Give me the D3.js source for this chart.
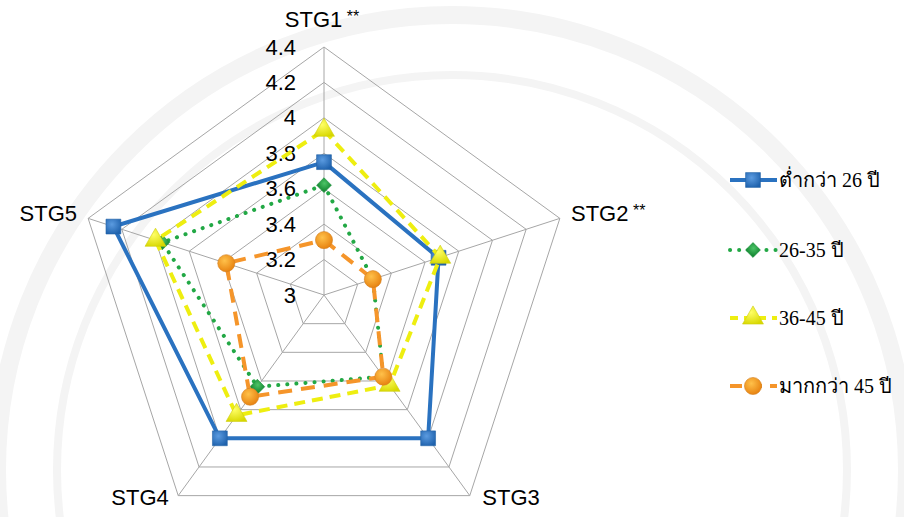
<!DOCTYPE html>
<html>
<head>
<meta charset="utf-8">
<script src="https://cdn.jsdelivr.net/npm/d3@7"></script>
<style>
  body { margin: 0; background: #fff; }
  svg { display: block; }
</style>
</head>
<body>
<div id="radar"></div>
<script>
// axes, ticks and series
const axes = ['STG1 **', 'STG2 **', 'STG3', 'STG4', 'STG5'];
const ticks = [3, 3.2, 3.4, 3.6, 3.8, 4, 4.2, 4.4];
const seriesNames = ['ต่ำกว่า 26 ปี', '26-35 ปี', '36-45 ปี', 'มากกว่า 45 ปี'];
const under26 = [3.75, 3.68, 4.0, 4.0, 4.25];
const age26to35 = [3.62, 3.29, 3.57, 3.64, 3.96];
const age36to45 = [3.93, 3.69, 3.63, 3.84, 4.0];
const over45 = [3.31, 3.29, 3.57, 3.71, 3.58];

const width = 904, height = 517;
const cx = 324, cy = 295, R = 248;

const svg = d3.select('#radar').append('svg')
    .attr('width', width)
    .attr('height', height);

// faint watermark arcs
const wm = svg.append('g').attr('fill', 'none').attr('stroke', '#f4f4f4');
wm.append('circle').attr('cx', 452).attr('cy', 470).attr('r', 455).attr('stroke-width', 18);
wm.append('circle').attr('cx', 452).attr('cy', 470).attr('r', 395).attr('stroke-width', 8);

const r = d3.scaleLinear().domain([3, 4.4]).range([0, R]);
const angle = d3.scaleLinear().domain([0, axes.length]).range([0, 2 * Math.PI]);

function pt(i, v) {
    const a = angle(i);
    return [cx + r(v) * Math.sin(a), cy - r(v) * Math.cos(a)];
}

const g = svg.append('g');

// grid rings
g.selectAll('.ring')
    .data(ticks.slice(1))
    .enter()
    .append('polygon')
    .attr('points', (t) => axes.map((_, i) => pt(i, t).join(',')).join(' '))
    .attr('fill', 'none')
    .attr('stroke', '#a6a6a6')
    .attr('stroke-width', 1);

// spokes
g.selectAll('.spoke')
    .data(axes)
    .enter()
    .append('line')
    .attr('x1', cx).attr('y1', cy)
    .attr('x2', (_, i) => pt(i, 4.4)[0])
    .attr('y2', (_, i) => pt(i, 4.4)[1])
    .attr('stroke', '#a6a6a6')
    .attr('stroke-width', 1);

// tick labels
g.selectAll('.tick')
    .data(ticks)
    .enter()
    .append('text')
    .attr('x', 296)
    .attr('y', (t) => cy - r(t))
    .attr('text-anchor', 'end')
    .attr('dominant-baseline', 'central')
    .attr('font-family', 'Liberation Sans, Arial, sans-serif')
    .attr('font-size', '22px')
    .attr('fill', '#000')
    .text((t) => d3.format('~g')(t));

// axis labels
const labelPos = [
    {x: 322, y: 19, anchor: 'middle'},
    {x: 571, y: 213, anchor: 'start'},
    {x: 511, y: 497, anchor: 'middle'},
    {x: 140, y: 497, anchor: 'middle'},
    {x: 77, y: 213, anchor: 'end'}
];
g.selectAll('.axislabel')
    .data(axes)
    .enter()
    .append('text')
    .attr('x', (_, i) => labelPos[i].x)
    .attr('y', (_, i) => labelPos[i].y)
    .attr('text-anchor', (_, i) => labelPos[i].anchor)
    .attr('dominant-baseline', 'central')
    .attr('font-family', 'Liberation Sans, Arial, sans-serif')
    .attr('font-size', '22px')
    .attr('fill', '#000')
    .each(function (d) {
        const parts = d.split(' ');
        d3.select(this).append('tspan').text(parts[0]);
        if (parts[1]) {
            d3.select(this).append('tspan')
                .attr('font-size', '16px')
                .attr('dy', '-3')
                .text(' ' + parts[1]);
        }
    });

// gradients for markers
const defs = svg.append('defs');
function grad(id, light, dark) {
    const gr = defs.append('radialGradient').attr('id', id)
        .attr('cx', '40%').attr('cy', '35%').attr('r', '70%');
    gr.append('stop').attr('offset', '0%').attr('stop-color', light);
    gr.append('stop').attr('offset', '100%').attr('stop-color', dark);
}
grad('gBlue', '#5b9be0', '#1f62ad');
grad('gGreen', '#4cc467', '#178a35');
grad('gYellow', '#ffff66', '#d8d800');
grad('gOrange', '#ffc14a', '#e67f0d');

const series = [
    {name: seriesNames[0], values: under26, color: '#2a72c0', width: 4, dash: null, cap: 'butt', marker: 'square', fill: 'url(#gBlue)', size: 220, rot: 0},
    {name: seriesNames[1], values: age26to35, color: '#22a845', width: 4, dash: '0.1 9', cap: 'round', marker: 'square', fill: 'url(#gGreen)', size: 110, rot: 45},
    {name: seriesNames[2], values: age36to45, color: '#eeee10', width: 4, dash: '11 7', cap: 'butt', marker: 'triangle', fill: 'url(#gYellow)', size: 190, rot: 0},
    {name: seriesNames[3], values: over45, color: '#f5952a', width: 4, dash: '14 9', cap: 'butt', marker: 'circle', fill: 'url(#gOrange)', size: 230, rot: 0}
];

const symbolType = {
    square: d3.symbolSquare,
    triangle: d3.symbolTriangle,
    circle: d3.symbolCircle
};

const line = d3.line().curve(d3.curveLinearClosed);

const sg = g.selectAll('.series')
    .data(series)
    .enter()
    .append('g');

sg.append('path')
    .attr('d', (s) => line(s.values.map((v, i) => pt(i, v))))
    .attr('fill', 'none')
    .attr('stroke', (s) => s.color)
    .attr('stroke-width', (s) => s.width)
    .attr('stroke-dasharray', (s) => s.dash)
    .attr('stroke-linecap', (s) => s.cap);

sg.each(function (s) {
    d3.select(this).selectAll('path.mk')
        .data(s.values)
        .enter()
        .append('path')
        .attr('class', 'mk')
        .attr('d', d3.symbol().type(symbolType[s.marker]).size(s.size))
        .attr('transform', (v, i) => {
            const [x, y] = pt(i, v);
            return `translate(${x},${y}) rotate(${s.rot})`;
        })
        .attr('fill', s.fill)
        .attr('stroke', d3.color(s.color).darker(0.4))
        .attr('stroke-width', 0.6);
});

// legend
const legend = svg.append('g');
const legendY = [180, 250, 318, 386];
const lg = legend.selectAll('.item')
    .data(series)
    .enter()
    .append('g')
    .attr('transform', (_, i) => `translate(0, ${legendY[i]})`);

lg.append('line')
    .attr('x1', 730).attr('x2', 777)
    .attr('y1', 0).attr('y2', 0)
    .attr('stroke', (s) => s.color)
    .attr('stroke-width', (s) => s.width)
    .attr('stroke-dasharray', (s) => s.marker === 'circle' ? '12 8' : s.marker === 'triangle' ? '8 6' : s.dash)
    .attr('stroke-linecap', (s) => s.cap);

lg.append('path')
    .attr('d', (s) => d3.symbol().type(symbolType[s.marker]).size(s.size)())
    .attr('transform', (s) => `translate(753,0) rotate(${s.rot})`)
    .attr('fill', (s) => s.fill)
    .attr('stroke', (s) => d3.color(s.color).darker(0.4))
    .attr('stroke-width', 0.6);

lg.append('text')
    .attr('x', 779)
    .attr('y', 0)
    .attr('dominant-baseline', 'central')
    .attr('font-family', 'Liberation Serif, Times New Roman, serif')
    .attr('font-size', '20px')
    .attr('fill', '#000')
    .text((s) => s.name);
</script>
</body>
</html>
